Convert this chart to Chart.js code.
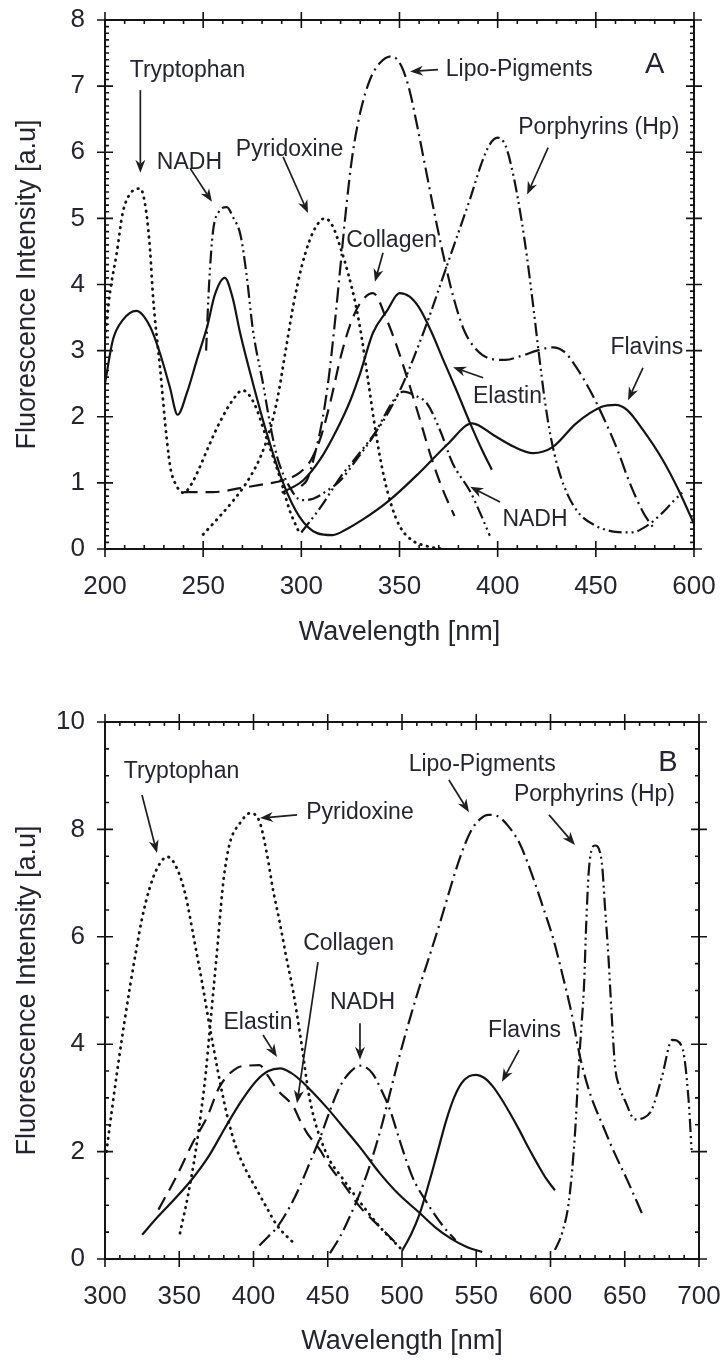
<!DOCTYPE html>
<html>
<head>
<meta charset="utf-8">
<title>Fluorescence spectra A / B</title>
<script src="https://cdn.jsdelivr.net/npm/chart.js@4.4.1/dist/chart.umd.min.js"></script>
<style>
  html, body { margin: 0; padding: 0; background: #fff; }
  .panel { position: absolute; left: 0; width: 724px; }
  #panelA { top: 0; height: 660px; }
  #panelB { top: 690px; height: 673px; }
</style>
</head>
<body>
<div class="panel" id="panelA"><canvas id="chartA" width="724" height="660"></canvas></div>
<div class="panel" id="panelB"><canvas id="chartB" width="724" height="673"></canvas></div>
<script>
// ---- Panel A: [wavelength nm, intensity a.u] ----
const aXTicks = ['200', '250', '300', '350', '400', '450', '600'];

const aTryptophan = [[200,3.2],[202.5,3.87],[206,4.48],[209,5.08],[213,5.38],[218,5.45],[221,5.1],[223,4.5],[224.5,3.8],[228,2.75],[231.5,1.65],[233.5,1.2],[236,0.98],[240,0.85],[244,0.98],[248,1.22],[253.5,1.6],[258.5,1.92],[265,2.25],[270,2.4],[276,2.2],[282,1.7],[289,1.09],[294,0.59],[299,0.24]];
const aNadh = [[251.5,3.0],[253,4.0],[255,4.8],[258,5.1],[262,5.17],[265.5,5.0],[269,4.75],[272,4.17],[275.4,3.3],[280.5,2.5],[284,1.9],[287.6,1.4],[294,0.94],[300,0.74],[306,0.76],[313,0.88],[320,1.04],[328,1.35],[336.5,1.7],[343,2.05],[347,2.25],[352,2.38],[358,2.32],[364,2.2],[370.6,1.8],[377,1.3],[386,0.87],[391,0.55],[396,0.2]];
const aPyridoxine = [[250,0.22],[258,0.48],[265,0.72],[272,1.0],[279,1.38],[284,1.8],[288,2.3],[292,3.0],[296,3.7],[300,4.25],[304,4.65],[308,4.9],[312,5.0],[316,4.88],[320,4.55],[324,4.15],[328,3.65],[331,3.15],[334,2.55],[338,1.75],[342,1.1],[346,0.65],[350,0.35],[356,0.14],[363,0.05],[372,0]];
const aCollagen = [[240,0.86],[255,0.86],[269,0.92],[279,0.97],[291,1.04],[299,1.15],[305,1.35],[310,1.7],[315,2.25],[320,2.9],[325,3.4],[330,3.72],[336.5,3.87],[343.6,3.46],[348.7,3.06],[353.8,2.6],[360,2.0],[366,1.4],[372,0.9],[378,0.5]];
const aLipo = [[300,0.95],[303,1.05],[307,1.45],[311,2.0],[314,2.6],[317,3.4],[320,4.3],[323,5.2],[326,5.95],[330,6.6],[335,7.1],[340,7.35],[346,7.45],[351,7.3],[355,6.95],[359,6.4],[363,5.8],[368,5.05],[373,4.35],[378,3.75],[383,3.3],[389,3.02],[396,2.88],[404,2.86],[412,2.92],[420,3.0],[428,3.05],[434,2.98],[440,2.75],[447,2.4],[454,1.98],[461,1.5],[467,1.02],[474,0.56],[480,0.29]];
const aPorphyrins = [[300,0.25],[310,0.64],[320,1.09],[331,1.5],[342,1.95],[351,2.45],[358,2.95],[365,3.5],[372,4.1],[379,4.7],[386,5.3],[392,5.85],[396,6.12],[400,6.22],[404,6.1],[408,5.65],[412,5.0],[415,4.4],[418,3.7],[421,2.95],[424,2.25],[427,1.7],[431,1.2],[436,0.8],[442,0.52],[450,0.35],[460,0.26],[468,0.25],[476,0.35],[484,0.55],[490,0.74],[494,0.85]];
const aFlavins = [[200,2.5],[204,3.16],[209,3.46],[216,3.6],[223,3.36],[228,2.96],[233,2.45],[237,2.03],[241.7,2.36],[246.8,2.86],[252,3.36],[256,3.85],[261,4.1],[265,3.8],[268.8,3.27],[275.4,2.5],[282.4,1.75],[290.7,1.0],[299,0.49],[308,0.24],[316,0.21],[323,0.3],[331,0.44],[345,0.74],[360,1.15],[375,1.6],[387,1.9],[398,1.72],[408,1.55],[418,1.45],[428,1.54],[440,1.9],[453,2.15],[460,2.18],[466,2.1],[474,1.8],[484,1.35],[492,0.9],[500,0.38]];
const aElastin = [[290,0.85],[301,1.04],[309.5,1.35],[318,1.8],[325,2.25],[330,2.66],[336.5,3.27],[343.6,3.6],[350,3.87],[355,3.82],[360,3.65],[366,3.3],[372,2.88],[379,2.4],[386,1.9],[392,1.5],[397,1.2]];

// labels [text, x, y] and arrows [x1, y1, x2, y2] in data units
const aLabels = [['Tryptophan',242,7.23],['NADH',243,5.85],['Pyridoxine',294,6.04],['Collagen',346,4.67],['Lipo-Pigments',411,7.25],['Porphyrins (Hp)',451.5,6.37],['Flavins',476,3.04],['Elastin',405,2.3],['NADH',419,0.44]];
const aArrows = [[218,6.94,218,5.69],[243.3,5.76,254.5,5.25],[290.7,5.93,303.4,5.08],[341.6,4.48,337.5,4.04],[369.6,7.25,355.4,7.22],[425.7,6.07,415,5.36],[474,2.74,466.4,2.25],[392.6,2.59,377.3,2.75],[401.2,0.71,386,0.94]];
const aPanel = ['A', 480, 7.32];

// ---- Panel B ----
const bXTicks = ['300', '350', '400', '450', '500', '550', '600', '650', '700'];

const bTryptophan = [[301,2.0],[305,2.85],[309,3.65],[313,4.4],[317,5.1],[321,5.75],[325,6.35],[330,6.9],[335,7.27],[342,7.49],[348,7.3],[354,6.8],[360,5.95],[366,5.05],[371,4.25],[376,3.5],[382,2.7],[388,2.1],[395,1.65],[402,1.3],[409,0.95],[416,0.62],[427,0.3]];
const bPyridoxine = [[350.5,0.48],[356,1.2],[361,2.0],[365,2.8],[368,3.5],[370,4.1],[372,4.7],[374,5.3],[376,5.9],[378,6.55],[380,7.1],[384,7.74],[391,8.12],[397.6,8.3],[404,8.15],[409,7.55],[413,6.9],[417.8,6.25],[422,5.63],[426.6,5.0],[431.3,4.2],[438,2.96],[449,1.97],[460,1.5],[472,1.05],[485,0.6],[500,0.17]];
const bElastin = [[325,0.45],[336,0.8],[348,1.15],[359,1.5],[370,1.92],[381,2.45],[392,2.95],[402,3.32],[410,3.5],[418,3.55],[425,3.47],[432,3.32],[440,3.1],[450,2.8],[460,2.47],[472,2.07],[485,1.6],[498,1.2],[511,0.88],[522,0.6],[533,0.38],[544,0.22],[554,0.13]];
const bCollagen = [[336,0.92],[348,1.53],[359,2.16],[368.7,2.64],[377,3.2],[389,3.56],[396,3.6],[404,3.61],[410,3.4],[416,3.15],[427,2.83],[431,2.6],[436,2.35],[444.8,2.03],[452,1.7],[460,1.42],[471.7,0.97],[485,0.6],[498.6,0.22]];
const bNadh = [[404,0.25],[410,0.42],[415.6,0.58],[425,1.0],[431,1.34],[438,1.8],[445,2.27],[452,2.8],[458,3.2],[465,3.48],[472,3.6],[480,3.46],[486,3.15],[492,2.77],[499,2.16],[507,1.53],[517,1.04],[528,0.6],[536,0.35]];
const bLipo = [[451.5,0.11],[458,0.4],[465,0.8],[472,1.25],[479,1.8],[486,2.45],[492,3.1],[498,3.75],[504,4.35],[511,5.0],[518,5.6],[526,6.3],[533,6.95],[540,7.55],[547,8.0],[553,8.2],[558,8.27],[564,8.25],[571,8.08],[579,7.75],[587,7.2],[595,6.55],[602,5.95],[608,5.3],[614,4.6],[620,3.75],[627,3.05],[635,2.5],[643,1.98],[652,1.45],[661.6,0.85]];
const bPorphyrins = [[603,0.17],[608,0.5],[612.5,1.1],[616.5,2.34],[619,3.58],[621,4.4],[622.6,5.1],[624,6.2],[626,7.3],[630,7.7],[634.6,7.37],[636.7,6.55],[639,5.63],[641,4.64],[643.5,3.58],[646.5,3.2],[650,2.96],[657,2.6],[662,2.62],[668,2.77],[675,3.39],[682,4.08],[688.6,3.95],[693,2.96],[695,2.03]];
const bFlavins = [[500,0.15],[506,0.45],[512,0.85],[518,1.4],[524,2.0],[530,2.6],[535,3.0],[540,3.27],[545,3.4],[550,3.43],[555,3.38],[561,3.22],[567,2.98],[573,2.7],[579,2.4],[585,2.08],[591,1.78],[597,1.5],[603,1.28]];

const bLabels = [['Tryptophan',351.5,9.07],['Pyridoxine',471.7,8.31],['Collagen',464,5.88],['NADH',473.4,4.77],['Elastin',403,4.41],['Lipo-Pigments',554,9.2],['Porphyrins (Hp)',629.6,8.64],['Flavins',582.5,4.26]];
const bArrows = [[324.9,8.64,335,7.56],[429.3,8.27,404.4,8.21],[443.4,5.53,429.3,2.9],[471.7,4.39,471.7,3.71],[406.4,4.17,415.8,3.76],[531.6,8.92,545.1,8.32],[599,8.27,616.5,7.71],[578.8,3.89,567.3,3.3]];
const bPanel = ['B', 679, 9.24];

// ---- styling ----
const FONT = '"Liberation Sans", Arial, Helvetica, sans-serif';
const INK = '#141414';
const TEXT = '#25252f';

const SOLID = [];
const DOTTED = [0.5, 6];
const DASHED = [14, 8];
const DASH_DOT = [15, 5, 2, 5];
const DASH_DOT_DOT = [13, 4, 2, 4, 2, 4];

function series(points, dash) {
  const dotted = dash === DOTTED;
  return {
    data: points.map(([x, y]) => ({ x, y })),
    borderColor: INK,
    borderWidth: dotted ? 2.8 : 2.2,
    borderDash: dash,
    borderCapStyle: dotted ? 'round' : 'butt',
    borderJoinStyle: 'round',
    pointRadius: 0,
    cubicInterpolationMode: 'monotone',
    fill: false
  };
}

// box frame with major (crossing) and minor (inside) ticks on all four sides
const framePlugin = {
  id: 'frame',
  afterDraw(chart, args, o) {
    const { ctx, chartArea: a, scales: { x, y } } = chart;
    const onStep = (v, step) => Math.abs(v / step - Math.round(v / step)) < 1e-6;
    const seg = (x1, y1, x2, y2) => { ctx.moveTo(x1, y1); ctx.lineTo(x2, y2); };
    ctx.save();
    ctx.strokeStyle = INK;
    ctx.lineWidth = 2;
    ctx.strokeRect(a.left, a.top, a.right - a.left, a.bottom - a.top);
    ctx.lineWidth = 1.6;
    ctx.beginPath();
    const nx = Math.round((x.max - x.min) / o.xMinor);
    for (let i = 0; i <= nx; i++) {
      const v = x.min + i * o.xMinor;
      const px = x.getPixelForValue(v);
      if (onStep(v - x.min, o.xMajor)) {
        seg(px, a.bottom - 8, px, a.bottom + 8);
        seg(px, a.top - 8, px, a.top + 8);
      } else {
        seg(px, a.bottom - 4, px, a.bottom);
        seg(px, a.top, px, a.top + 4);
      }
    }
    const ny = Math.round((y.max - y.min) / o.yMinor);
    for (let i = 0; i <= ny; i++) {
      const v = y.min + i * o.yMinor;
      const py = y.getPixelForValue(v);
      if (onStep(v - y.min, o.yMajor)) {
        seg(a.left - 8, py, a.left + 8, py);
        seg(a.right - 8, py, a.right + 8, py);
      } else {
        seg(a.left, py, a.left + 4, py);
        seg(a.right - 4, py, a.right, py);
      }
    }
    ctx.stroke();
    ctx.restore();
  }
};

function drawArrow(ctx, x1, y1, x2, y2) {
  const ang = Math.atan2(y2 - y1, x2 - x1);
  const c = Math.cos(ang), s = Math.sin(ang);
  const head = 13, half = 5;
  const bx = x2 - head * c, by = y2 - head * s;
  ctx.beginPath();
  ctx.moveTo(x1, y1);
  ctx.lineTo(x2 - head * 0.7 * c, y2 - head * 0.7 * s);
  ctx.stroke();
  ctx.beginPath();
  ctx.moveTo(x2, y2);
  ctx.lineTo(bx + half * s, by - half * c);
  ctx.lineTo(x2 - head * 0.7 * c, y2 - head * 0.7 * s);
  ctx.lineTo(bx - half * s, by + half * c);
  ctx.closePath();
  ctx.fill();
}

// curve names, arrows and the panel letter
const notesPlugin = {
  id: 'notes',
  afterDatasetsDraw(chart, args, o) {
    const { ctx, scales: { x, y } } = chart;
    ctx.save();
    ctx.fillStyle = TEXT;
    ctx.textAlign = 'center';
    ctx.textBaseline = 'middle';
    ctx.font = '23px ' + FONT;
    o.labels.forEach(([t, vx, vy]) => ctx.fillText(t, x.getPixelForValue(vx), y.getPixelForValue(vy)));
    ctx.font = '29px ' + FONT;
    ctx.fillText(o.panel[0], x.getPixelForValue(o.panel[1]), y.getPixelForValue(o.panel[2]));
    ctx.strokeStyle = '#1e1e1e';
    ctx.fillStyle = '#1e1e1e';
    ctx.lineWidth = 1.7;
    o.arrows.forEach(([x1, y1, x2, y2]) => drawArrow(ctx,
      x.getPixelForValue(x1), y.getPixelForValue(y1),
      x.getPixelForValue(x2), y.getPixelForValue(y2)));
    ctx.restore();
  }
};

// fixed axis box sizes; edge labels may hang past the plot area
function fixBox(s, w, h) {
  if (w) s.width = w;
  if (h) s.height = h;
  s.paddingLeft = s.paddingRight = s.paddingTop = s.paddingBottom = 0;
}

function makeChart(id, c) {
  return new Chart(document.getElementById(id), {
    type: 'line',
    data: { datasets: c.datasets },
    options: {
      responsive: false,
      animation: false,
      events: [],
      layout: { padding: c.padding, autoPadding: false },
      plugins: {
        legend: { display: false },
        tooltip: { enabled: false },
        frame: c.frame,
        notes: c.notes
      },
      scales: {
        x: {
          type: 'linear',
          min: c.xMin,
          max: c.xMax,
          afterFit: s => fixBox(s, 0, c.xHeight),
          grid: { display: false, drawTicks: false },
          border: { display: false },
          ticks: {
            stepSize: 50,
            autoSkip: false,
            maxRotation: 0,
            padding: 22,
            color: TEXT,
            font: { family: FONT, size: 26 },
            callback: (v, i) => c.xTicks[i]
          },
          title: {
            display: true,
            text: 'Wavelength [nm]',
            color: TEXT,
            font: { family: FONT, size: 27 },
            padding: { top: 0, bottom: c.xTitlePad }
          }
        },
        y: {
          min: 0,
          max: c.yMax,
          afterFit: s => fixBox(s, 105, 0),
          grid: { display: false, drawTicks: false },
          border: { display: false },
          ticks: {
            stepSize: c.yStep,
            padding: 20,
            color: TEXT,
            font: { family: FONT, size: 26 }
          },
          title: {
            display: true,
            text: 'Fluorescence Intensity [a.u]',
            color: TEXT,
            font: { family: FONT, size: 27 },
            padding: { top: 11, bottom: 0 }
          }
        }
      }
    },
    plugins: [framePlugin, notesPlugin]
  });
}

makeChart('chartA', {
  datasets: [
    series(aTryptophan, DOTTED),
    series(aPyridoxine, DOTTED),
    series(aNadh, DASH_DOT_DOT),
    series(aCollagen, DASHED),
    series(aLipo, DASH_DOT),
    series(aPorphyrins, DASH_DOT_DOT),
    series(aFlavins, SOLID),
    series(aElastin, SOLID)
  ],
  padding: { left: 0, right: 30, top: 20, bottom: 0 },
  xMin: 200, xMax: 500, xTicks: aXTicks, xHeight: 111, xTitlePad: 11,
  yMax: 8, yStep: 1,
  frame: { xMajor: 50, xMinor: 10, yMajor: 1, yMinor: 0.1 },
  notes: { labels: aLabels, arrows: aArrows, panel: aPanel }
});

makeChart('chartB', {
  datasets: [
    series(bTryptophan, DOTTED),
    series(bPyridoxine, DOTTED),
    series(bElastin, SOLID),
    series(bCollagen, DASHED),
    series(bNadh, DASH_DOT),
    series(bLipo, DASH_DOT),
    series(bPorphyrins, DASH_DOT_DOT),
    series(bFlavins, SOLID)
  ],
  padding: { left: 0, right: 25, top: 32, bottom: 0 },
  xMin: 300, xMax: 700, xTicks: bXTicks, xHeight: 104, xTitlePad: 5,
  yMax: 10, yStep: 2,
  frame: { xMajor: 50, xMinor: 10, yMajor: 2, yMinor: 0.5 },
  notes: { labels: bLabels, arrows: bArrows, panel: bPanel }
});
</script>
</body>
</html>
